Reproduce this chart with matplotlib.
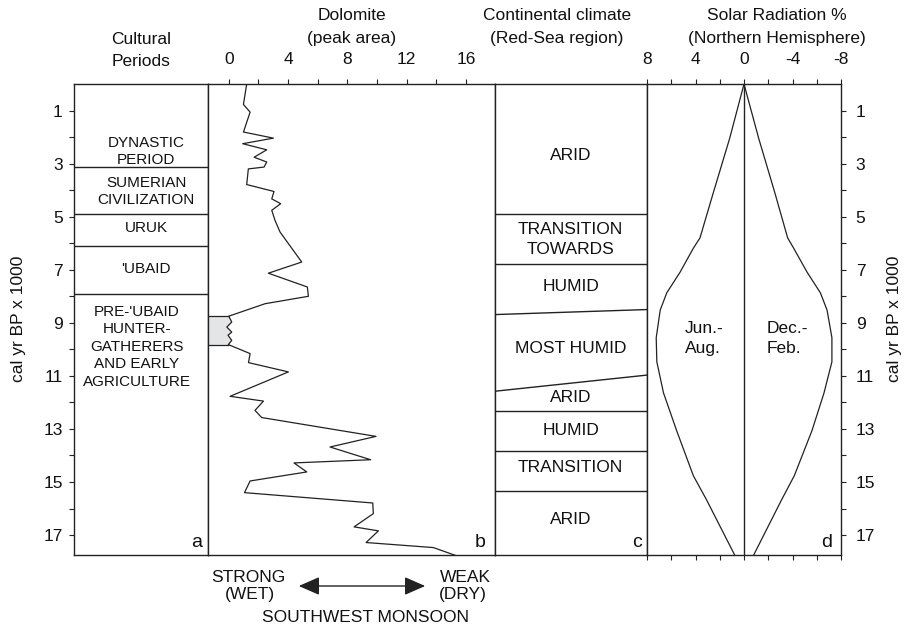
import matplotlib.pyplot as plt

plt.rcParams['font.family'] = ['Liberation Sans', 'DejaVu Sans']
plt.rcParams['axes.unicode_minus'] = False

# --- a: cultural periods (cal yr BP x 1000) ---
period_names = ["DYNASTIC\nPERIOD", "SUMERIAN\nCIVILIZATION", "URUK", "'UBAID",
                "PRE-'UBAID\nHUNTER-\nGATHERERS\nAND EARLY\nAGRICULTURE"]
period_bounds = [3.11, 4.89, 6.11, 7.90]
period_label_age = [2.55, 4.05, 5.42, 6.97, 9.9]

# --- b: dolomite peak area ---
dol_age = [0.0, 0.77, 1.06, 1.81, 2.04, 2.25, 2.48, 2.76, 2.94, 3.13, 3.20, 3.79,
           4.05, 4.33, 4.51, 4.76, 5.14, 5.58, 6.71, 7.13, 7.65, 8.00, 8.28, 8.75,
           8.97, 9.16, 9.35, 9.47, 9.66, 9.82, 10.16, 10.50, 10.85, 11.77, 11.95,
           12.30, 12.57, 13.28, 13.68, 14.16, 14.28, 14.62, 14.96, 15.40, 15.79,
           16.19, 16.69, 16.84, 17.28, 17.47, 17.76]
dol_val = [1.21, 0.99, 1.44, 0.99, 3.01, 0.94, 2.56, 1.71, 2.56, 2.38, 1.32, 1.21,
           3.05, 2.90, 3.50, 2.90, 3.12, 3.46, 4.92, 2.67, 5.30, 5.37, 2.45, 0.0,
           0.2, -0.13, 0.2, -0.05, 0.2, -0.03, 1.44, 1.33, 4.02, 0.09, 2.34,
           1.77, 2.22, 9.93, 6.83, 9.57, 4.40, 5.26, 1.44, 1.06, 9.71,
           9.75, 8.45, 10.09, 9.26, 13.80, 15.26]
grey_top, grey_bot = 8.75, 9.82

# --- c: continental climate ---
climate_names = ["ARID", "TRANSITION\nTOWARDS", "HUMID", "MOST HUMID", "ARID",
                 "HUMID", "TRANSITION", "ARID"]
climate_bounds_left = [4.89, 6.78, 8.69, 11.58, 12.32, 13.84, 15.33]
climate_bounds_right = [4.89, 6.78, 8.50, 10.97, 12.32, 13.84, 15.33]
climate_label_age = [2.7, 5.86, 7.63, 9.98, 11.8, 13.05, 14.47, 16.4]

# --- d: solar radiation anomaly % ---
sol_age = [0, 2.03, 4.11, 5.80, 6.19, 7.09, 7.87, 8.52, 9.56, 10.47, 11.64,
           13.07, 14.76, 15.67, 17.75]
sol_jja = [0, 1.17, 2.54, 3.63, 4.18, 5.27, 6.37, 6.91, 7.24, 7.19, 6.64,
           5.55, 4.18, 3.09, 0.77]
sol_djf = [0, -1.2, -2.55, -3.6, -4.1, -5.2, -6.3, -6.85, -7.25, -7.25, -6.6,
           -5.6, -4.15, -3.1, -0.8]

W, H = 907, 626
fig = plt.figure(figsize=(W / 100, H / 100), dpi=100)


def rect(x0, x1, y0=84, y1=555):
    return [x0 / W, 1 - y1 / H, (x1 - x0) / W, (y1 - y0) / H]


ink = '#222222'
ax_a = fig.add_axes(rect(74, 208))
ax_b = fig.add_axes(rect(208, 494.5), sharey=ax_a)
ax_c = fig.add_axes(rect(494.5, 647), sharey=ax_a)
ax_d = fig.add_axes(rect(647, 841), sharey=ax_a)
ax_a.set_ylim(17.75, 0)

for ax in (ax_a, ax_b, ax_c, ax_d):
    for s in ax.spines.values():
        s.set_linewidth(1.0)
        s.set_color(ink)
    ax.tick_params(which='both', direction='out', length=3.6, width=0.8,
                   color=ink, labelsize=12.5, labelcolor='#111111')

ages = list(range(1, 18))
age_labels = [str(a) if a % 2 else '' for a in ages]

# panel a
ax_a.set_xlim(0, 1)
ax_a.set_xticks([])
ax_a.set_yticks(ages)
ax_a.set_yticklabels(age_labels)
ax_a.tick_params(axis='y', pad=4.5)
for b in period_bounds:
    ax_a.axhline(b, color=ink, lw=1.0)
for name, y, xc in zip(period_names, period_label_age, [0.54, 0.54, 0.54, 0.54, 0.47]):
    lines = name.split('\n')
    for i, ln in enumerate(lines):
        ax_a.text(xc, y + (i - (len(lines) - 1) / 2) * 0.66, ln, ha='center',
                  va='center', fontsize=11, color='#111111')

# panel b
ax_b.set_xlim(-1.4, 17.92)
ax_b.xaxis.tick_top()
dol_ticks = list(range(0, 17, 2))
ax_b.set_xticks(dol_ticks)
ax_b.set_xticklabels([str(v) if v % 4 == 0 else '' for v in dol_ticks])
ax_b.tick_params(axis='x', pad=9)
ax_b.tick_params(axis='y', left=False, labelleft=False)
ax_b.plot(dol_val, dol_age, color=ink, lw=0.9)
zig = [(a, v) for a, v in zip(dol_age, dol_val) if grey_top <= a <= grey_bot]
ax_b.fill_betweenx([a for a, _ in zig], -1.4, [v for _, v in zig],
                   color='#e4e5e6', lw=0)
ax_b.hlines([grey_top, grey_bot], -1.4, 0, color=ink, lw=0.9)

# panel c
ax_c.set_xlim(0, 1)
ax_c.set_xticks([])
ax_c.tick_params(axis='y', left=False, labelleft=False)
for yl, yr in zip(climate_bounds_left, climate_bounds_right):
    ax_c.plot([0, 1], [yl, yr], color=ink, lw=1.0)
for name, y in zip(climate_names, climate_label_age):
    lines = name.split('\n')
    for i, ln in enumerate(lines):
        ax_c.text(0.5, y + (i - (len(lines) - 1) / 2) * 0.76, ln, ha='center',
                  va='center', fontsize=12.5, color='#111111')

# panel d
ax_d.set_xlim(8, -8)
sol_ticks = list(range(8, -9, -2))
ax_d.set_xticks(sol_ticks)
ax_d.set_xticklabels([str(v) if v % 4 == 0 else '' for v in sol_ticks])
ax_d.tick_params(axis='x', top=True, bottom=True, labeltop=True,
                 labelbottom=False, pad=9)
ax_d.yaxis.tick_right()
ax_d.set_yticks(ages)
ax_d.set_yticklabels(age_labels)
ax_d.tick_params(axis='y', pad=7)
ax_d.axvline(0, color=ink, lw=1.0)
ax_d.plot(sol_jja, sol_age, color=ink, lw=0.9, solid_joinstyle='round')
ax_d.plot(sol_djf, sol_age, color=ink, lw=0.9, solid_joinstyle='round')
for x0, s in ((4.86, "Jun.-\nAug."), (-1.83, "Dec.-\nFeb.")):
    ax_d.text(x0, 9.6, s, ha='left', va='center', fontsize=12.5,
              linespacing=1.45, color='#111111')

# panel letters
for ax, letter, xf in ((ax_a, 'a', 0.955), (ax_b, 'b', 0.97),
                       (ax_c, 'c', 0.965), (ax_d, 'd', 0.952)):
    ax.text(xf, 17.45, letter, transform=ax.get_yaxis_transform(),
            ha='right', va='baseline', fontsize=14, color='#111111')


def ftext(x, y, s, **kw):
    fig.text(x / W, 1 - y / H, s, ha='center', va='center', fontsize=12.5,
             color='#111111', **kw)


# column titles
ftext(141, 40, "Cultural")
ftext(141, 62, "Periods")
ftext(352, 15, "Dolomite")
ftext(352, 38, "(peak area)")
ftext(557, 15, "Continental climate")
ftext(557, 38, "(Red-Sea region)")
ftext(777, 15, "Solar Radiation %")
ftext(777, 38, "(Northern Hemisphere)")

# axis labels
ftext(19, 319, "cal yr BP x 1000", rotation=90)
ftext(894, 319, "cal yr BP x 1000", rotation=90)

# monsoon annotation
ftext(248, 577, "STRONG")
ftext(250, 594, "(WET)")
ftext(465, 577, "WEAK")
ftext(463, 594, "(DRY)")
ftext(365, 617, "SOUTHWEST MONSOON")
fig.add_artist(plt.matplotlib.patches.FancyArrowPatch(
    (296 / W, 1 - 586 / H), (428 / W, 1 - 586 / H), transform=fig.transFigure,
    arrowstyle='<|-|>,head_length=0.8,head_width=0.35', mutation_scale=16,
    color=ink, lw=1.0))

fig.savefig('out.png', dpi=100)
